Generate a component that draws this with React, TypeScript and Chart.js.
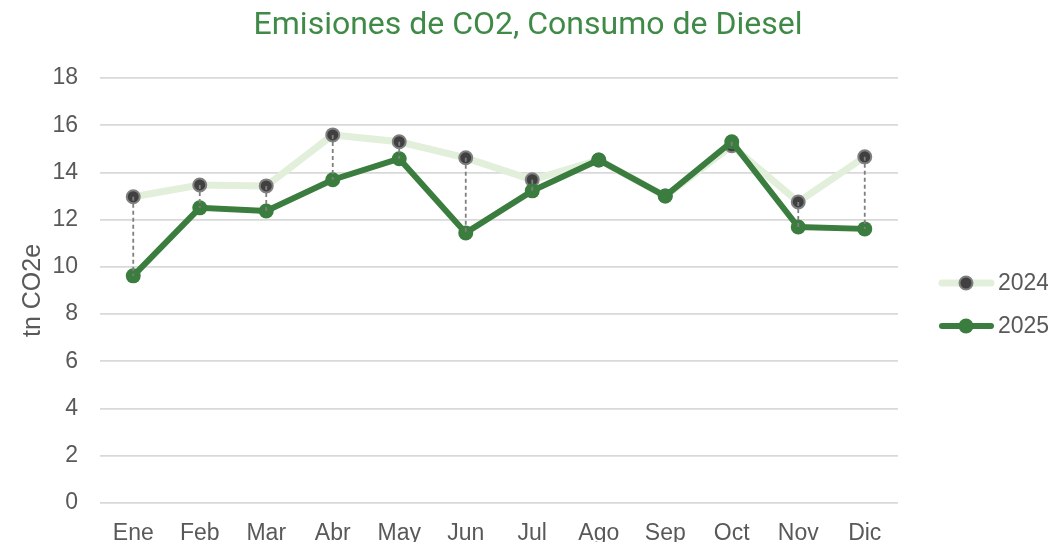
import React, { useEffect, useRef } from "react";
import { Chart, registerables } from "chart.js";

Chart.register(...registerables);

const months = ["Ene", "Feb", "Mar", "Abr", "May", "Jun", "Jul", "Ago", "Sep", "Oct", "Nov", "Dic"];
const values2024 = [12.97, 13.47, 13.43, 15.59, 15.3, 14.62, 13.69, 14.53, 13.0, 15.13, 12.75, 14.66];
const values2025 = [9.62, 12.5, 12.37, 13.69, 14.58, 11.44, 13.22, 14.53, 13.0, 15.3, 11.69, 11.61];
const yTicks = { min: 0, max: 18, step: 2 };

const FONT = "'Liberation Sans', Arial, sans-serif";
const TITLE_FONT = "Roboto, 'Liberation Sans', sans-serif";
const GRAY = "#595959";
const C2024 = "#e2efda";
const C2025 = "#3a7d3e";
const TITLE_GREEN = "#3f8a46";

const dropLines = {
  id: "dropLines",
  afterDatasetsDraw(chart: any) {
    const m0 = chart.getDatasetMeta(0);
    const m1 = chart.getDatasetMeta(1);
    const ctx = chart.ctx;
    ctx.save();
    ctx.strokeStyle = "#7f7f7f";
    ctx.lineWidth = 1.8;
    ctx.setLineDash([4, 3]);
    for (let i = 0; i < m0.data.length; i++) {
      const a = m0.data[i];
      const b = m1.data[i];
      if (!a || !b) continue;
      ctx.beginPath();
      ctx.moveTo(a.x, a.y);
      ctx.lineTo(b.x, b.y);
      ctx.stroke();
    }
    ctx.restore();
  },
};

const customLegend = {
  id: "customLegend",
  afterDraw(chart: any) {
    const ctx = chart.ctx;
    const items = [
      { label: "2024", line: C2024, lw: 7, fill: "#404040", border: "#808080", bw: 2, r: 6.5, y: 283 },
      { label: "2025", line: C2025, lw: 6, fill: C2025, border: C2025, bw: 0, r: 7.5, y: 326 },
    ];
    ctx.save();
    for (const it of items) {
      ctx.strokeStyle = it.line;
      ctx.lineWidth = it.lw;
      ctx.lineCap = "round";
      ctx.beginPath();
      ctx.moveTo(942, it.y);
      ctx.lineTo(991, it.y);
      ctx.stroke();
      ctx.beginPath();
      ctx.arc(966, it.y, it.r, 0, Math.PI * 2);
      ctx.fillStyle = it.fill;
      ctx.fill();
      if (it.bw > 0) {
        ctx.lineWidth = it.bw;
        ctx.strokeStyle = it.border;
        ctx.stroke();
      }
      ctx.fillStyle = GRAY;
      ctx.font = `23px ${FONT}`;
      ctx.textAlign = "left";
      ctx.textBaseline = "middle";
      ctx.fillText(it.label, 998, it.y + 1);
    }
    ctx.restore();
  },
};

export default function App() {
  const ref = useRef<HTMLCanvasElement>(null);
  useEffect(() => {
    if (!ref.current) return;
    const chart = new Chart(ref.current, {
      type: "line",
      data: {
        labels: months,
        datasets: [
          {
            label: "2024",
            data: values2024,
            borderColor: C2024,
            borderWidth: 7,
            pointRadius: 6.5,
            pointBackgroundColor: "#404040",
            pointBorderColor: "#808080",
            pointBorderWidth: 2,
            tension: 0,
            order: 2,
          },
          {
            label: "2025",
            data: values2025,
            borderColor: C2025,
            borderWidth: 6,
            pointRadius: 7.5,
            pointBackgroundColor: C2025,
            pointBorderColor: C2025,
            pointBorderWidth: 0,
            tension: 0,
            order: 1,
          },
        ],
      },
      options: {
        animation: false,
        responsive: true,
        maintainAspectRatio: false,
        layout: { padding: { left: 8, right: 0, top: 0, bottom: 0 } },
        plugins: {
          legend: { display: false },
          tooltip: { enabled: false },
          title: {
            display: true,
            text: "Emisiones de CO2, Consumo de Diesel",
            color: TITLE_GREEN,
            font: { family: TITLE_FONT, size: 32, weight: "normal" },
            padding: { top: 6.8, bottom: 32.8 },
          },
        },
        scales: {
          x: {
            type: "category",
            offset: true,
            grid: { display: false, drawTicks: false },
            border: { display: false },
            ticks: { color: GRAY, font: { family: FONT, size: 23 }, padding: 17, maxRotation: 0, autoSkip: false },
            afterFit: (s: any) => {
              s.height = 39;
            },
          },
          y: {
            min: yTicks.min,
            max: yTicks.max,
            ticks: { stepSize: yTicks.step, color: GRAY, font: { family: FONT, size: 23 }, padding: 22 },
            grid: { color: "#d9d9d9", lineWidth: 1.8, drawTicks: false },
            border: { display: false },
            title: {
              display: true,
              text: "tn CO2e",
              color: GRAY,
              font: { family: FONT, size: 25 },
              padding: { top: 10, bottom: 0 },
            },
            afterFit: (s: any) => {
              s.width = 92;
            },
          },
          legendSpace: {
            type: "linear",
            position: "right",
            display: true,
            grid: { drawOnChartArea: false, drawTicks: false, display: false },
            border: { display: false },
            ticks: { display: false },
            afterFit: (s: any) => {
              s.width = 150;
            },
          },
        },
      },
      plugins: [dropLines, customLegend],
    } as any);
    return () => chart.destroy();
  }, []);
  return (
    <div style={{ position: "fixed", left: 0, top: 0, width: 1048, height: 542, background: "#fff" }}>
      <canvas ref={ref} />
    </div>
  );
}
